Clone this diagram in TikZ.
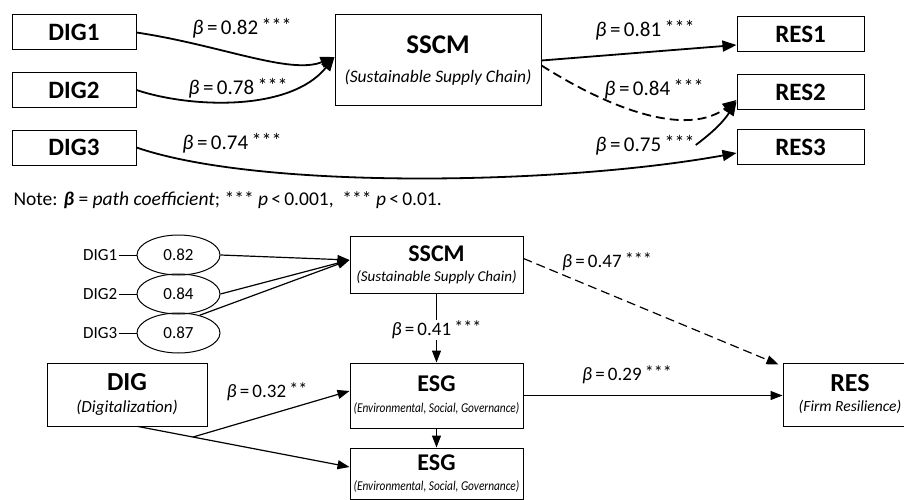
\documentclass[tikz,border=0pt]{standalone}
\usepackage{fontspec}
\setmainfont{Carlito}
\usetikzlibrary{positioning,arrows.meta,shapes.geometric,calc}
\tikzset{
  box/.style   ={draw, line width=1pt, align=center, inner sep=0pt},
  tbox/.style  ={box, minimum width=124pt, minimum height=35pt,
                 font=\fontsize{25}{26}\selectfont\bfseries},
  rbox/.style  ={tbox, minimum width=127pt},
  ell/.style   ={ellipse, draw, line width=1pt, minimum width=83pt,
                 minimum height=40pt, inner sep=0pt, font=\fontsize{17}{18}\selectfont},
  ind/.style   ={font=\fontsize{17}{18}\selectfont, inner sep=1pt},
  fl/.style    ={-{Triangle[length=14pt,width=11pt]}, line width=1.8pt},
  fls/.style   ={-{Triangle[length=12pt,width=9pt]}, line width=1.2pt},
  dsh/.style   ={dash pattern=on 9pt off 5pt},
  coef/.style  ={font=\fontsize{21}{22}\selectfont, inner sep=1pt},
  coefs/.style ={font=\fontsize{19}{20}\selectfont, inner sep=1pt}
}
\newcommand{\cf}[2]{\textit{β}\,=\,#1\,\raisebox{0.2ex}{\scalebox{0.95}{#2}}}
\newcommand{\boxhead}[2]{{\fontsize{#1}{#1}\selectfont\bfseries #2}}
\newcommand{\boxnote}[2]{{\fontsize{#1}{#1}\selectfont\itshape (#2)}}
\newcommand{\esgnote}{\scalebox{0.84}[1]{\boxnote{13.5}{Environmental, Social, Governance}}}

\begin{document}
\begin{tikzpicture}[x=1pt,y=-1pt]
  \useasboundingbox (0,0) rectangle (904,500);

  % upper model: indicators -> SSCM -> resilience items
  \node[tbox] (dig1) at (74,32.5) {DIG1};
  \node[tbox] (dig2) at (74,90)   {DIG2};
  \node[tbox] (dig3) at (74,147.5){DIG3};
  \node[box, minimum width=206pt, minimum height=91pt] (sscm) at (438,60.5)
       {\boxhead{27}{SSCM}\\[15pt]\boxnote{17.5}{Sustainable Supply Chain}};
  \node[rbox] (res1) at (800.5,34)  {RES1};
  \node[rbox] (res2) at (800.5,92.5){RES2};
  \node[rbox] (res3) at (800.5,147) {RES3};

  \node[coef] (c82) at (242,28)  {\cf{0.82}{***}};
  \node[coef] (c78) at (238,88)  {\cf{0.78}{***}};
  \node[coef] (c74) at (232,143) {\cf{0.74}{***}};
  \node[coef] (c81) at (645,30)  {\cf{0.81}{***}};
  \node[coef] (c84) at (654,89)  {\cf{0.84}{***}};
  \node[coef] (c75) at (645,145) {\cf{0.75}{***}};

  \draw[fl](dig1.east) .. controls (220,45) and (290,75) .. ([yshift=3.5pt]sscm.west);
  \draw[fl](dig2.east) .. controls (190,108) and (290,112) .. ([yshift=3.5pt]sscm.west);
  \draw[fl](dig3.east) .. controls (260,190) and (560,185) .. ([yshift=-6pt]res3.west);
  \draw[fl](sscm.east) -- ([yshift=-11pt]res1.west);
  \draw[fl, dsh](sscm.east) ++(0,5) .. controls (620,115) and (690,135) .. ([yshift=-7.5pt]res2.west);
  \draw[fl](c75.east) to[bend right=10] ([yshift=-9pt]res2.west);

  \node[anchor=west, font=\fontsize{19.5}{20}\selectfont] (note) at (10,200)
       {Note: \textbf{\textit{β}} = \textit{path coefficient}; *** \textit{p}\,<\,0.001, \ *** \textit{p}\,<\,0.01.};

  % lower model: DIG, SSCM and ESG -> RES
  \node[ell] (e1) at (178.5,255) {0.82};
  \node[ell] (e2) at (178.5,294) {0.84};
  \node[ell] (e3) at (178.5,333) {0.87};
  \node[ind, left=18pt of e1] (i1) {DIG1};
  \node[ind, left=18pt of e2] (i2) {DIG2};
  \node[ind, left=18pt of e3] (i3) {DIG3};
  \draw[line width=1pt](i1)--(e1);\draw[line width=1pt](i2)--(e2);\draw[line width=1pt](i3)--(e3);

  \node[box, minimum width=173pt, minimum height=57pt] (sscm2) at (436.5,264.5)
       {\boxhead{24}{SSCM}\\[8pt]\boxnote{15}{Sustainable Supply Chain}};
  \node[box, minimum width=173pt, minimum height=65pt] (esg1) at (436.5,395.5)
       {\boxhead{24}{ESG}\\[9pt]\esgnote};
  \node[box, minimum width=173pt, minimum height=51pt] (esg2) at (436.5,473.5)
       {\boxhead{24}{ESG}\\[8pt]\esgnote};
  \node[box, minimum width=160pt, minimum height=63pt] (dig) at (127,394.5)
       {\boxhead{26}{DIG}\\[8pt]\boxnote{17}{Digitalization}};
  \node[box, minimum width=134pt, minimum height=63pt] (res) at (850,394.5)
       {\boxhead{26}{RES}\\[8pt]\boxnote{15.5}{Firm Resilience}};

  \draw[fls](e1.east) -- ([yshift=4.5pt]sscm2.west);
  \draw[fls](e2.east) -- ([yshift=4.5pt]sscm2.west);
  \draw[fls](e3.40) -- ([yshift=4.5pt]sscm2.west);
  \draw[fls](sscm2.south) -- (esg1.north)
        node[coefs, fill=white, midway, yshift=-2pt]{\cf{0.41}{***}};
  \draw[fls](esg1.south) -- (esg2.north);
  \draw[fls]([xshift=11pt]dig.south) -- coordinate[pos=0.26](split) ([yshift=6.5pt]esg2.west);
  \draw[fls](split) -- ([yshift=4.5pt]esg1.west);
  \draw[fls](esg1.east) -- (esg1.east -| res.west);
  \draw[fls, dsh]([yshift=6pt]sscm2.east) -- ([xshift=-4pt,yshift=-2pt]res.north west);

  \node[coefs] (c32) at (267,392) {\cf{0.32}{**}};
  \node[coefs] (c29) at (627,375) {\cf{0.29}{***}};
  \node[coefs] (c47) at (607,262) {\cf{0.47}{***}};
\end{tikzpicture}
\end{document}
